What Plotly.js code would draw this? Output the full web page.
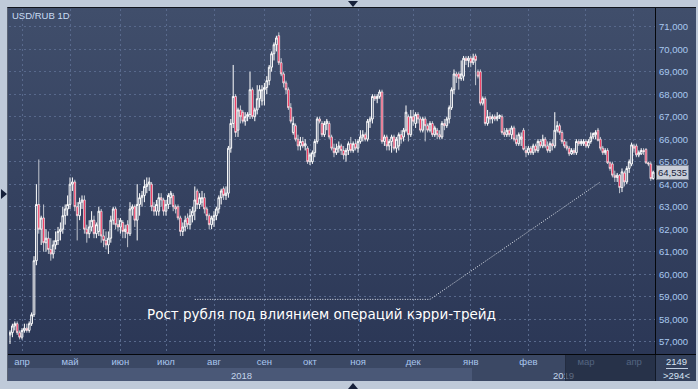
<!DOCTYPE html>
<html>
<head>
<meta charset="utf-8">
<script src="https://cdn.plot.ly/plotly-3.0.1.min.js"></script>
<style>
html,body{margin:0;padding:0;width:698px;height:389px;overflow:hidden;background:#bfcad9;}
#wrap{position:relative;width:698px;height:389px;}
.abs{position:absolute;}
#panel{left:7px;top:7px;width:689px;height:348px;background:linear-gradient(to bottom,#404e6b 0%,#2b3756 100%);border-top:1px solid #10141c;border-left:1px solid #5a6374;box-sizing:border-box;}
#monthRow{left:8px;top:354px;width:648px;height:14px;background:#3b4864;}
#yearRow18{left:8px;top:368px;width:464px;height:13px;background:#4a5877;}
#yearRow19{left:472px;top:368px;width:184px;height:13px;background:#3b4864;}
#cornerBox{left:656px;top:354px;width:40px;height:27px;background:#33405b;}
#leftEdge{left:7px;top:354px;width:1px;height:27px;background:#5a6374;}
#chart{left:0;top:0;width:698px;height:389px;}
#hline{left:8px;top:354px;width:688px;height:1px;background:#05070b;}
#vline{left:655px;top:8px;width:1px;height:373px;background:#05070b;}
#dim{left:565px;top:355px;width:90px;height:26px;background:rgba(28,37,56,0.62);border-left:1px solid #232c40;}
#sep{left:666px;top:368px;width:22px;height:1px;background:#c3d0e2;}
.tri{width:0;height:0;position:absolute;}
#triTop{left:348px;top:1px;border-left:5px solid transparent;border-right:5px solid transparent;border-top:6px solid #16203a;}
#triBot{left:348px;top:383px;border-left:5px solid transparent;border-right:5px solid transparent;border-bottom:6px solid #16203a;}
#triLeft{left:1px;top:189px;border-top:5px solid transparent;border-bottom:5px solid transparent;border-left:6px solid #16203a;}
</style>
</head>
<body>
<div id="wrap">
  <div id="panel" class="abs"></div>
  <div id="monthRow" class="abs"></div>
  <div id="yearRow18" class="abs"></div>
  <div id="yearRow19" class="abs"></div>
  <div id="cornerBox" class="abs"></div>
  <div id="leftEdge" class="abs"></div>
  <div id="chart" class="abs"></div>
  <div id="hline" class="abs"></div>
  <div id="vline" class="abs"></div>
  <div id="dim" class="abs"></div>
  <div id="sep" class="abs"></div>
  <div id="triTop" class="tri"></div>
  <div id="triBot" class="tri"></div>
  <div id="triLeft" class="tri"></div>
</div>
<script>
// ---- data: USD/RUB daily candles, late Mar 2018 - Apr 2019 ----
const openPrice = [
57.3,57.4,57.7,57.8,57.4,57.2,57.5,57.6,57.5,57.8,
58.2,60.6,63.1,62.0,62.5,61.4,61.6,61.1,60.9,61.3,
61.5,61.9,62.0,62.6,62.9,63.1,64.0,64.1,63.0,62.6,
63.2,63.3,62.0,61.8,62.1,62.4,61.8,61.9,62.8,61.7,
61.5,61.3,61.6,62.4,62.9,62.2,62.1,62.3,61.9,62.2,
61.8,62.9,63.0,62.4,63.1,63.4,63.5,63.9,64.0,64.0,
63.0,62.8,62.8,63.4,63.3,62.8,63.1,63.4,63.5,63.0,
63.0,62.5,61.9,62.1,62.5,62.2,62.6,62.8,63.7,63.1,
63.2,63.4,62.9,62.6,62.2,62.4,62.6,62.9,63.4,63.8,
63.5,63.6,65.6,66.7,67.9,66.4,67.3,67.2,66.8,67.0,
67.1,68.2,67.0,67.3,67.8,67.7,68.2,68.3,68.6,69.2,
69.8,70.2,70.6,69.4,68.9,68.5,68.2,67.4,66.3,66.6,
66.0,65.7,65.9,65.7,65.6,65.0,65.0,65.4,65.9,66.9,
66.7,66.2,66.7,66.7,66.1,65.6,65.4,65.6,65.7,65.5,
65.3,65.5,65.8,65.5,65.8,65.6,65.9,66.1,66.2,66.0,
66.8,66.9,67.9,67.8,67.9,68.1,65.9,66.1,65.7,65.9,
66.1,65.6,65.7,66.2,66.1,66.4,67.0,66.2,67.0,66.7,
67.1,66.9,66.4,66.9,66.6,66.4,66.7,66.2,66.4,66.2,
66.1,66.7,66.6,66.9,67.4,68.2,68.9,68.9,68.7,68.8,
69.6,69.5,69.6,69.4,69.7,69.0,69.0,67.6,67.8,66.7,
67.0,66.9,67.0,66.9,67.0,67.0,66.3,66.2,66.4,66.2,
66.5,66.0,65.8,66.0,66.4,65.5,65.4,65.6,65.4,65.7,
65.5,65.9,65.7,66.0,65.7,65.5,65.8,65.7,66.4,66.6,
66.3,65.9,65.7,65.6,65.35,65.5,65.4,65.9,65.8,65.8,
65.9,65.7,65.9,66.1,66.2,66.4,66.0,65.6,65.4,65.5,
64.95,64.9,64.4,64.3,64.4,63.85,64.5,64.1,64.7,64.9,
65.7,65.7,65.3,65.35,65.5,65.55,64.95,64.9,64.25];

const highPrice = [
57.5,57.8,57.9,57.9,57.5,57.6,57.8,57.8,57.9,58.3,
60.8,64.0,65.1,62.6,63.1,62.0,61.9,61.6,61.5,61.9,
62.1,62.3,63.0,63.1,63.5,64.3,64.3,64.2,63.2,63.4,
63.5,63.5,62.2,62.4,62.8,62.6,62.3,63.0,62.9,62.0,
61.9,61.9,62.6,63.0,63.0,62.5,62.5,62.4,62.2,62.4,
63.2,63.1,63.1,64.0,63.6,63.7,64.2,64.3,64.3,64.1,
63.2,63.3,63.6,63.6,63.4,63.3,63.6,63.7,63.6,63.1,
63.1,62.6,62.3,62.6,62.7,62.9,63.0,63.9,63.8,63.6,
63.7,63.6,63.0,62.7,62.6,62.8,63.0,63.5,63.8,63.9,
63.9,65.7,66.9,69.3,68.0,67.4,67.5,67.3,67.2,67.2,
69.0,68.3,67.4,68.4,68.4,68.4,68.5,68.8,69.3,69.9,
70.3,70.6,70.75,69.6,69.0,68.6,68.3,67.6,67.0,66.7,
66.2,66.1,66.1,66.0,65.7,65.4,65.5,66.0,67.0,67.0,
66.8,66.8,66.9,66.8,66.2,65.8,65.8,65.9,65.8,65.7,
65.6,65.9,66.1,65.9,66.0,66.0,66.4,66.4,66.3,66.9,
67.0,68.0,68.0,68.0,68.2,68.2,66.2,66.2,66.0,66.2,
66.2,66.1,66.3,66.4,66.5,67.5,67.1,67.3,67.3,67.2,
67.2,67.0,67.0,67.0,66.7,66.8,66.8,66.6,66.5,66.4,
66.8,66.9,67.0,67.5,68.3,69.1,69.0,69.0,69.5,69.7,
69.7,69.7,69.7,69.8,69.8,69.1,69.1,67.9,67.9,67.3,
67.2,67.1,67.1,67.2,67.1,67.1,66.5,66.5,66.5,66.6,
66.6,66.2,66.3,66.3,66.5,65.7,65.7,65.7,65.8,65.8,
66.0,66.0,66.2,66.1,65.9,65.9,66.0,67.2,66.8,66.7,
66.4,66.0,65.9,65.7,65.6,65.6,66.0,66.0,66.0,66.0,
66.0,66.0,66.3,66.3,66.4,66.5,66.1,65.7,65.6,65.6,
65.0,65.0,64.6,64.5,64.45,64.7,64.6,64.8,65.1,65.85,
65.8,65.8,65.5,65.6,65.6,65.6,65.0,65.0,64.6];

const lowPrice = [
56.9,57.2,57.5,57.3,57.1,57.1,57.4,57.4,57.4,57.7,
58.1,60.4,61.8,61.3,61.0,61.0,60.9,60.6,60.7,61.1,
61.3,61.5,61.8,62.2,62.6,62.9,63.7,62.8,61.5,62.4,
62.9,61.8,61.4,61.6,61.9,61.6,61.6,61.7,61.4,61.2,
61.1,60.9,61.4,62.2,62.0,61.9,61.8,61.6,61.6,61.2,
61.7,62.6,62.1,61.5,62.6,63.0,63.2,63.6,63.7,62.8,
62.6,62.6,62.6,63.0,62.6,62.6,62.9,63.1,62.8,62.7,
62.4,61.7,61.7,61.9,62.0,62.0,62.3,62.4,62.9,62.9,
63.0,62.7,62.4,62.0,62.0,62.1,62.4,62.7,63.1,63.3,
63.3,63.4,65.4,66.5,66.1,66.1,66.7,66.7,66.6,66.8,
66.9,66.9,66.8,67.1,67.4,67.5,67.5,68.0,68.4,69.0,
69.5,69.9,69.3,68.8,68.3,68.0,67.3,66.7,66.2,65.9,
65.5,65.5,65.6,65.5,64.9,64.85,64.9,65.2,65.8,66.7,
66.1,66.1,66.4,66.0,65.5,65.2,65.3,65.4,65.3,65.1,
65.0,65.3,65.4,65.4,65.5,65.4,65.8,65.9,65.9,65.9,
66.5,66.7,67.7,67.6,67.8,65.8,65.7,65.5,65.5,65.4,
65.5,65.4,65.5,65.8,65.9,66.3,65.9,66.1,66.6,66.5,
66.7,66.3,66.3,65.9,66.3,66.3,66.1,66.1,66.0,66.0,
66.0,66.4,66.5,66.7,67.3,68.0,68.5,68.2,68.6,68.6,
69.3,69.2,69.2,69.3,68.4,68.7,67.5,67.5,66.6,66.6,
66.7,66.7,66.8,66.8,66.9,66.2,66.1,66.1,66.1,66.0,
65.9,65.7,65.7,65.7,65.5,65.2,65.3,65.3,65.3,65.4,
65.4,65.6,65.6,65.6,65.4,65.4,65.5,65.6,66.3,66.2,
65.8,65.6,65.5,65.25,65.3,65.3,65.3,65.7,65.7,65.7,
65.6,65.6,65.8,66.0,66.0,65.9,65.5,65.3,65.3,64.9,
64.6,64.3,64.1,64.1,63.6,63.65,63.9,64.0,64.5,64.8,
65.4,65.2,65.2,65.3,65.3,64.9,64.8,64.15,64.2];

const closePrice = [
57.4,57.7,57.8,57.4,57.2,57.5,57.6,57.5,57.8,58.2,
60.6,63.1,62.0,62.5,61.4,61.6,61.1,60.9,61.3,61.5,
61.9,62.0,62.6,62.9,63.1,64.0,64.1,63.0,62.6,63.2,
63.3,62.0,61.8,62.1,62.4,61.8,62.2,62.8,61.7,61.5,
61.3,61.6,62.4,62.9,62.2,62.1,62.4,61.9,62.0,61.8,
62.9,63.0,62.4,63.1,63.4,63.5,63.9,64.0,64.1,63.0,
62.8,63.1,63.4,63.3,62.8,63.1,63.5,63.6,63.0,62.9,
62.5,61.9,62.1,62.4,62.2,62.6,62.8,63.3,63.1,63.4,
63.4,62.9,62.6,62.2,62.5,62.6,62.9,63.4,63.7,63.5,
63.6,65.6,66.7,67.9,66.3,67.3,67.0,66.8,67.0,67.1,
68.2,67.0,67.3,67.8,68.2,68.2,68.3,68.6,69.2,69.8,
70.2,70.5,69.4,68.9,68.5,68.2,67.4,66.8,66.7,66.0,
65.7,65.9,65.7,65.8,65.0,65.3,65.4,65.9,66.9,66.8,
66.2,66.7,66.8,66.1,65.6,65.4,65.6,65.7,65.5,65.3,
65.5,65.8,65.5,65.8,65.6,65.9,66.1,66.2,66.0,66.8,
66.9,67.9,67.8,67.9,68.1,65.9,66.1,65.7,65.9,66.1,
65.6,66.0,66.2,66.0,66.4,67.2,66.2,67.0,66.8,67.1,
66.9,66.4,66.9,66.6,66.4,66.7,66.2,66.5,66.2,66.1,
66.7,66.6,66.9,67.4,68.2,68.9,68.8,68.7,68.9,69.6,
69.5,69.6,69.4,69.6,69.5,68.8,67.6,67.8,66.7,67.0,
66.9,67.0,66.9,67.0,67.05,66.3,66.2,66.4,66.2,66.5,
66.0,65.8,66.2,66.1,65.55,65.4,65.6,65.4,65.7,65.5,
65.9,65.7,66.0,65.7,65.5,65.8,65.7,66.4,66.6,66.3,
65.9,65.7,65.6,65.35,65.5,65.4,65.9,65.8,65.9,65.9,
65.7,65.9,66.1,66.25,66.3,65.95,65.6,65.4,65.5,64.95,
64.7,64.4,64.3,64.4,63.85,64.55,64.1,64.7,65.0,65.75,
65.6,65.3,65.4,65.5,65.45,64.95,64.9,64.25,64.535];

// first trading bar of each month and its label
const monthStartBar = [5,25,46,65,85,106,125,145,168,192,216,240,260];
const monthLabels = ['апр','май','июн','июл','авг','сен','окт','ноя','дек','янв','фев','мар','апр'];
const priceTicks = [57,58,59,60,61,62,63,64,65,66,67,68,69,70,71];
const lastPrice = 64.535;
// dotted callout line (bar index / price)
const calloutBar = [77,175,246];
const calloutPrice = [58.88,58.88,64.1];
const calloutText = 'Рост рубля под влиянием операций кэрри-трейд';
const chartTitle = 'USD/RUB 1D';
const yearLabels = ['2018','2019'];
const counterTop = '2149';
const counterBottom = '>294<';

// ---- geometry helpers (pixel -> paper) ----
const L = 9, R = 656, T = 9, B = 354;
const px = v => (v - L) / (R - L);
const py = v => (B - v) / (B - T);

const barIndex = closePrice.map((_, i) => i);

const traces = [
  {
    type: 'scatter', mode: 'lines', x: calloutBar, y: calloutPrice,
    line: {color: '#e2e7ee', width: 1, dash: '1px,1.5px'}, hoverinfo: 'skip'
  },
  {
    type: 'candlestick', x: barIndex,
    open: openPrice, high: highPrice, low: lowPrice, close: closePrice,
    increasing: {line: {color: '#ffffff', width: 1}, fillcolor: 'rgba(0,0,0,0)'},
    decreasing: {line: {color: '#ffffff', width: 0.7}, fillcolor: '#ec0f3e'},
    whiskerwidth: 0, hoverinfo: 'none'
  }
];

const gridStyle = {gridcolor: '#58698c', griddash: '2px,3px', gridwidth: 1};

const layout = {
  width: 698, height: 389,
  margin: {l: L, r: 698 - R, t: T, b: 389 - B, pad: 0},
  paper_bgcolor: 'rgba(0,0,0,0)', plot_bgcolor: 'rgba(0,0,0,0)',
  separators: ', ',
  showlegend: false,
  boxgap: 0,
  xaxis: Object.assign({
    range: [-0.417, 269.17],
    tickvals: monthStartBar, ticktext: monthLabels,
    ticks: '', showline: false, zeroline: false, showgrid: true,
    tickfont: {family: 'Liberation Sans, Arial, sans-serif', size: 9.5, color: '#a9c6ee'},
    rangeslider: {visible: false}, fixedrange: true
  }, gridStyle),
  yaxis: Object.assign({
    side: 'right', range: [56.453, 71.787],
    tickvals: priceTicks, tickformat: '.3f',
    ticks: '', ticklabelstandoff: 2, showline: false, zeroline: false, showgrid: true,
    tickfont: {family: 'Liberation Sans, Arial, sans-serif', size: 9.5, color: '#a9c9f0'},
    fixedrange: true
  }, gridStyle),
  annotations: [
    {xref: 'paper', yref: 'paper', x: px(10), y: py(15), xanchor: 'left', yanchor: 'middle',
     text: chartTitle, showarrow: false,
     font: {family: 'Liberation Sans, Arial, sans-serif', size: 9.5, color: '#c9dcf3'}},
    {xref: 'paper', yref: 'paper', x: px(321), y: py(314), xanchor: 'center', yanchor: 'middle',
     text: calloutText, showarrow: false,
     font: {family: 'DejaVu Sans, sans-serif', size: 13.5, color: '#ffffff'}},
    {xref: 'paper', yref: 'paper', x: px(241.7), y: py(375), xanchor: 'center', yanchor: 'middle',
     text: yearLabels[0], showarrow: false,
     font: {family: 'Liberation Sans, Arial, sans-serif', size: 9.5, color: '#c3d4ea'}},
    {xref: 'paper', yref: 'paper', x: px(563), y: py(375), xanchor: 'center', yanchor: 'middle',
     text: yearLabels[1], showarrow: false,
     font: {family: 'Liberation Sans, Arial, sans-serif', size: 9.5, color: '#c3d4ea'}},
    {xref: 'paper', yref: 'paper', x: px(676), y: py(361), xanchor: 'center', yanchor: 'middle',
     text: counterTop, showarrow: false,
     font: {family: 'Liberation Sans, Arial, sans-serif', size: 9.5, color: '#d6e2f2'}},
    {xref: 'paper', yref: 'paper', x: px(676), y: py(375), xanchor: 'center', yanchor: 'middle',
     text: counterBottom, showarrow: false,
     font: {family: 'Liberation Sans, Arial, sans-serif', size: 9.5, color: '#d6e2f2'}},
    {xref: 'paper', yref: 'y', x: px(656), y: lastPrice, xanchor: 'left', yanchor: 'middle',
     text: lastPrice.toFixed(3).replace('.', ','), showarrow: false,
     bgcolor: '#c9ced8', bordercolor: '#7c8494', borderwidth: 1, borderpad: 1,
     font: {family: 'Liberation Sans, Arial, sans-serif', size: 9.5, color: '#17223c'}}
  ]
};

Plotly.newPlot('chart', traces, layout, {staticPlot: true, displayModeBar: false});
</script>
</body>
</html>
